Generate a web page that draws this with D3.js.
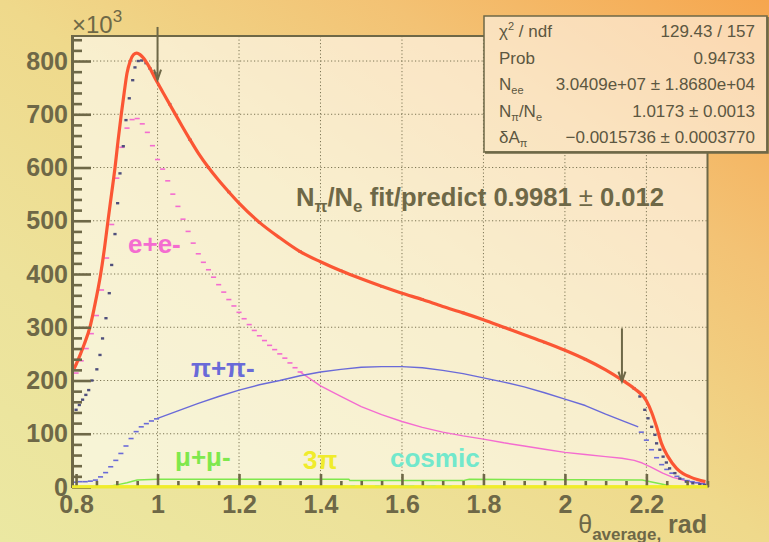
<!DOCTYPE html>
<html><head><meta charset="utf-8">
<script src="https://cdn.jsdelivr.net/npm/d3@7"></script>
<style>body{margin:0;background:#fff;} svg{display:block;}</style>
</head><body>
<svg id="c" width="769" height="542"></svg>
<script>
// ---------------- data ----------------
const xTicks = [0.8, 1.0, 1.2, 1.4, 1.6, 1.8, 2.0, 2.2];
const xTickLabels = ["0.8", "1", "1.2", "1.4", "1.6", "1.8", "2", "2.2"];
const yTicks = [0, 100, 200, 300, 400, 500, 600, 700, 800];
const yTickLabels = ["0", "100", "200", "300", "400", "500", "600", "700", "800"];

// total fit (red)
const fitX = [0.795,0.800,0.810,0.820,0.834,0.845,0.860,0.870,0.878,0.887,0.8955,0.903,0.911,0.918,0.925,0.933,0.941,0.949,0.957,0.966,0.974,0.983,0.991,1.000,1.02,1.04,1.06,1.08,1.10,1.125,1.15,1.175,1.20,1.25,1.30,1.35,1.40,1.45,1.50,1.55,1.60,1.65,1.70,1.75,1.80,1.85,1.90,1.95,2.00,2.05,2.10,2.14,2.17,2.20,2.213,2.225,2.237,2.253,2.274,2.29,2.307,2.325,2.345];
const fitY = [222,230,248,268,300,338,398,450,498,550,599,650,700,740,777,800,812,815,812,805,796,784,772,759,732,705,678,652,627,600,576,554,533,497,468,442,423,406,391,377,364,352,339,327,314,300,286,272,257,240,220,201,185,162,140,113,82,57,35,25,19,14,10];

// data points (dark)
const dataX = [0.800,0.808,0.816,0.824,0.831,0.839,0.851,0.8587,0.865,0.8734,0.8815,0.8874,0.8955,0.902,0.9078,0.9159,0.9225,0.9306,0.939,0.9446,0.9527,0.961,0.9716,0.9814,0.9937,
  1.03,1.08,1.125,1.175,1.25,1.35,1.45,1.55,1.65,1.75,1.85,1.95,2.05,2.14,2.17,
  2.184,2.196,2.204,2.213,2.221,2.225,2.233,2.241,2.249,2.257,2.27,2.282,2.298,2.314,2.331,2.343];
const dataY = [145,154,164,173,182,200,221,248,279,317,364,417,475,533,589,640,689,730,764,788,800,801,796,786,777,
  719,652,600,554,497,442,406,377,352,327,300,272,240,201,185,
  170,145,129,113,98,82,70,57,46,35,26,16,10,7,5,4];

// e+e- (pink): binned part and smooth tail
const binW = 0.0125;
const eeBinStart = 0.80;
const eeBinY = [214,237,260,288,322,370,430,493,580,638,674,690,692,682,666,641,615,597,575,550,527,503,480,458,438,422,408,394,380,366,352,340,328,316,305,294,284,275,266,258,250,242,233,224,216];
const eeLineX = [1.35,1.40,1.45,1.50,1.55,1.60,1.65,1.70,1.75,1.80,1.85,1.90,1.95,2.00,2.05,2.10,2.14,2.17,2.19,2.21,2.24,2.265,2.29,2.315,2.345];
const eeLineY = [216,190,170,151,136,123,112,103,96,90,83,77,71,65,61,57,54,50,45,38,26,18,13,9,7];

// pi+pi- (blue)
const ppBinStart = 0.7975;
const ppBinY = [9,10,10,11,13,19,27,38,50,63,77,91,104,113,119,124,128];
const ppLineX = [1.0,1.05,1.10,1.15,1.20,1.25,1.30,1.35,1.40,1.45,1.50,1.55,1.60,1.65,1.70,1.75,1.80,1.85,1.90,1.95,2.00,2.05,2.10,2.15,2.18];
const ppLineY = [129,143,157,170,182,192,200,209,216,221,225,226,226,224,219,213,205,197,188,177,165,153,137,122,113];
const ppFallStart = 2.1875;
const ppFallY = [103,88,70,55,42,33,26,20,15,12,10,8,6];

// mu+mu- (green)
const muX = [0.79,0.875,0.90,0.925,0.95,1.0,1.47,1.472,1.75,1.765,2.19,2.21,2.24,2.266,2.35];
const muY = [0.5,0.5,4,8,13,14.5,14.5,12,12,14.5,13,10,5,0.5,0.5];

// 3pi (yellow) and cosmic (cyan)
const tpX = [0.79,1.2,1.6,2.0,2.35];
const tpY = [0.3,0.3,0.3,0.3,0.3];
const cosX = [1.48,1.54,1.60,1.6125,1.625,1.665,1.6775,1.705,1.7175,1.79];
const cosY = [0.9,0.9,0.9,0.9,0.9,0.9,0.9,0.9,0.9,0.9];

// fit-range arrows
const arrowX = [1.0, 2.14];
const arrowTop = [864, 298];
const arrowTip = [765, 198];

// stats box
const statLabels = ["chi", "Prob", "Nee", "NpiNe", "dA"];
const statValues = ["129.43 / 157", "0.94733", "3.0409e+07 \u00b1 1.8680e+04", "1.0173 \u00b1 0.0013", "\u22120.0015736 \u00b1 0.0003770"];

// ---------------- drawing ----------------
const AX = "#6e6847";
const FONT = "'Liberation Sans', Arial, Helvetica, sans-serif";
const svg = d3.select("#c").style("font-family", FONT);
const L = 72, R = 707.5, T = 36, B = 487;
const x = d3.scaleLinear().domain([0.79, 2.35]).range([L, R]);
const y = d3.scaleLinear().domain([0, 847]).range([B, T]);

const defs = svg.append("defs");
const bg = defs.append("linearGradient").attr("id", "bg").attr("gradientUnits", "userSpaceOnUse")
  .attr("x1", 640).attr("y1", -91).attr("x2", 129).attr("y2", 633);
[[0, "#f6a64e"], [0.25, "#f3c274"], [0.5, "#efd98b"], [0.75, "#ede29a"], [1, "#ebe8a2"]]
  .forEach(s => bg.append("stop").attr("offset", s[0]).attr("stop-color", s[1]));

svg.append("rect").attr("width", 769).attr("height", 542).attr("fill", "url(#bg)");
svg.append("rect").attr("x", L).attr("y", T).attr("width", R - L).attr("height", B - T)
  .attr("fill", "#fff").attr("fill-opacity", 0.58);

// grid
const grid = svg.append("g").attr("stroke", "#7d7655").attr("stroke-width", 1).attr("stroke-dasharray", "1.2,2.3");
xTicks.filter(t => t > 0.85).forEach(t => grid.append("line").attr("x1", x(t)).attr("x2", x(t)).attr("y1", T).attr("y2", B));
yTicks.filter(t => t > 0).forEach(t => grid.append("line").attr("x1", L).attr("x2", R).attr("y1", y(t)).attr("y2", y(t)));

const lineGen = d3.line().x(d => x(d[0])).y(d => y(d[1]));
function drawLine(xs, ys, color, w, curve) {
  const pts = xs.map((v, i) => [v, ys[i]]);
  svg.append("path").attr("d", lineGen.curve(curve || d3.curveLinear)(pts))
    .attr("fill", "none").attr("stroke", color).attr("stroke-width", w).attr("stroke-linejoin", "round");
}
function drawBins(start, ys, w, color, th) {
  const g = svg.append("g").attr("stroke", color).attr("stroke-width", th);
  ys.forEach((v, i) => {
    const c = start + i * w;
    g.append("line").attr("x1", x(c - w / 2)).attr("x2", x(c + w / 2)).attr("y1", y(v)).attr("y2", y(v));
  });
}

const PINK = "#f46cd0", BLUE = "#6a6ad8", GREEN = "#7fe84c", YELLOW = "#f0ec2c", CYAN = "#72e8cc", RED = "#fb5634", DATA = "#4f4f7c";

// e+e-
drawBins(eeBinStart, eeBinY, binW, PINK, 1.6);
drawLine(eeLineX, eeLineY, PINK, 1.4);
// pi+pi-
drawBins(ppBinStart, ppBinY, binW, BLUE, 1.6);
drawLine(ppLineX, ppLineY, BLUE, 1.4);
drawBins(ppFallStart, ppFallY, binW, BLUE, 1.6);
// mu+mu-
drawLine(muX, muY, GREEN, 1.5);

// data points
svg.append("g").attr("fill", DATA).selectAll("rect").data(dataX).join("rect")
  .attr("x", d => x(d) - 1.6).attr("y", (d, i) => y(dataY[i]) - 1.2).attr("width", 3.2).attr("height", 2.4);

// fit
drawLine(fitX, fitY, RED, 3.2, d3.curveMonotoneX);

// frame
svg.append("rect").attr("x", L).attr("y", T).attr("width", R - L).attr("height", B - T)
  .attr("fill", "none").attr("stroke", AX).attr("stroke-width", 2);

// 3pi and cosmic
drawLine(tpX, tpY, YELLOW, 3);
svg.append("g").attr("fill", CYAN).selectAll("rect").data(cosX).join("rect")
  .attr("x", d => x(d - binW / 2)).attr("y", (d, i) => y(cosY[i]) - 1.5).attr("width", x(binW) - x(0) - 0.5).attr("height", 2.5);

// axes
const yAxis = d3.axisLeft(y).tickValues(yTicks).tickFormat((d, i) => yTickLabels[i]).tickSize(-19).tickSizeOuter(0).tickPadding(4);
const yMinor = d3.axisLeft(y).tickValues(d3.range(0, 847, 20).filter(v => v % 100 !== 0)).tickFormat("").tickSize(-10).tickSizeOuter(0);
const xAxis = d3.axisBottom(x).tickValues(xTicks).tickFormat((d, i) => xTickLabels[i]).tickSize(-13).tickSizeOuter(0).tickPadding(8);
const xMinor = d3.axisBottom(x).tickValues(d3.range(0.85, 2.351, 0.05).filter(v => Math.abs(v * 5 - Math.round(v * 5)) > 1e-6)).tickFormat("").tickSize(-6).tickSizeOuter(0);

function styleAxis(g) {
  g.selectAll("path").attr("stroke", AX).attr("stroke-width", 3);
  g.selectAll("line").attr("stroke", AX).attr("stroke-width", 2.6);
  g.selectAll("text").attr("fill", AX).attr("font-size", 25).attr("font-weight", "bold").attr("font-family", FONT);
}
const gyMinor = svg.append("g").attr("transform", `translate(${L},0)`).call(yMinor); styleAxis(gyMinor);
const gy = svg.append("g").attr("transform", `translate(${L},0)`).call(yAxis); styleAxis(gy);
const gxMinor = svg.append("g").attr("transform", `translate(0,${B})`).call(xMinor); styleAxis(gxMinor);
gxMinor.select("path").remove();
const gx = svg.append("g").attr("transform", `translate(0,${B})`).call(xAxis); styleAxis(gx);
gx.select("path").remove();
// redraw 3pi over the axis base line
drawLine(tpX, tpY, YELLOW, 3);

// exponent label
const ex = svg.append("text").attr("x", 72).attr("y", 33).attr("fill", AX).attr("font-size", 24);
ex.append("tspan").text("\u00d710");
ex.append("tspan").attr("font-size", 17).attr("dy", -11).text("3");

// arrows
arrowX.forEach((ax, i) => {
  const px = x(ax), y0 = y(arrowTop[i]), y1 = y(arrowTip[i]);
  const g = svg.append("g").attr("stroke", AX).attr("stroke-width", 2).attr("fill", "none");
  g.append("line").attr("x1", px).attr("x2", px).attr("y1", y0).attr("y2", y1);
  g.append("path").attr("d", `M${px - 3.5},${y1 - 10} L${px},${y1} L${px + 3.5},${y1 - 10}`);
});

// series labels
function label(t, px, py, color) {
  svg.append("text").attr("x", px).attr("y", py).attr("fill", color).attr("font-size", 26)
    .attr("font-weight", "bold").text(t);
}
label("e+e-", 128, 253, PINK);
label("\u03c0+\u03c0-", 191, 377, BLUE);
label("\u03bc+\u03bc-", 175, 466, GREEN);
label("3\u03c0", 303, 469, YELLOW);
label("cosmic", 390, 467, CYAN);

// title-like annotation
const tt = svg.append("text").attr("x", 296).attr("y", 206).attr("fill", AX).attr("font-size", 25.6).attr("font-weight", "bold");
tt.append("tspan").text("N");
tt.append("tspan").attr("font-size", 17).attr("dy", 6).text("\u03c0");
tt.append("tspan").attr("dy", -6).text("/N");
tt.append("tspan").attr("font-size", 17).attr("dy", 6).text("e");
tt.append("tspan").attr("dy", -6).text(" fit/predict 0.9981 ");
tt.append("tspan").attr("font-weight", "normal").text("\u00b1");
tt.append("tspan").text(" 0.012");

// x-axis title
const xt = svg.append("text").attr("x", 707).attr("y", 533).attr("text-anchor", "end").attr("fill", AX).attr("font-size", 25);
xt.append("tspan").text("\u03b8");
xt.append("tspan").attr("font-size", 17).attr("font-weight", "bold").attr("dy", 7).text("average,");
xt.append("tspan").attr("font-weight", "bold").attr("dy", -7).text(" rad");

// stats box
const bx = 484, by = 16, bw = 283, bh = 136;
svg.append("rect").attr("x", bx).attr("y", by).attr("width", bw).attr("height", bh).attr("fill", "url(#bg)");
svg.append("rect").attr("x", bx).attr("y", by).attr("width", bw).attr("height", bh)
  .attr("fill", "#fff").attr("fill-opacity", 0.55).attr("stroke", AX).attr("stroke-width", 1.5);
svg.append("path").attr("d", `M${bx + 1},${by + bh + 0.5} H${bx + bw + 0.5} V${by + 1}`)
  .attr("fill", "none").attr("stroke", AX).attr("stroke-width", 2.5);
const SC = "#5c5741";
statLabels.forEach((k, i) => {
  const yy = 37 + i * 26.5;
  const t = svg.append("text").attr("x", 499).attr("y", yy).attr("fill", SC).attr("font-size", 17);
  if (k === "chi") {
    t.append("tspan").text("\u03c7");
    t.append("tspan").attr("font-size", 11).attr("dy", -7).text("2");
    t.append("tspan").attr("dy", 7).text(" / ndf");
  } else if (k === "Prob") {
    t.text("Prob");
  } else if (k === "Nee") {
    t.append("tspan").text("N");
    t.append("tspan").attr("font-size", 11).attr("dy", 4).text("ee");
  } else if (k === "NpiNe") {
    t.append("tspan").text("N");
    t.append("tspan").attr("font-size", 11).attr("dy", 4).text("\u03c0");
    t.append("tspan").attr("dy", -4).text("/N");
    t.append("tspan").attr("font-size", 11).attr("dy", 4).text("e");
  } else {
    t.append("tspan").text("\u03b4A");
    t.append("tspan").attr("font-size", 11).attr("dy", 4).text("\u03c0");
  }
  svg.append("text").attr("x", 755).attr("y", yy).attr("text-anchor", "end").attr("fill", SC)
    .attr("font-size", 17).text(statValues[i]);
});
</script>
</body></html>
